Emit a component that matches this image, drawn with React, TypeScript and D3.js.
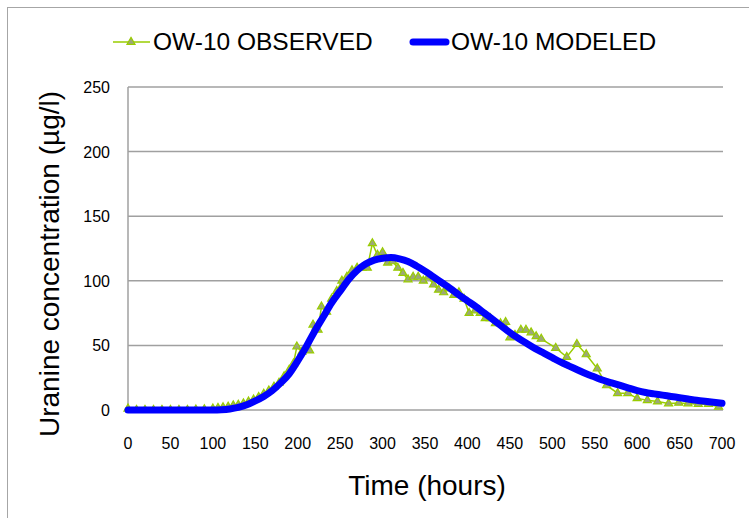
import React from 'react'
import * as d3 from 'd3'

// observed concentration, [hours, ug/l]
const observedHours = [0, 10, 20, 30, 40, 50, 60, 70, 80, 90, 100, 106, 112, 118, 124, 130, 136, 142, 148, 154, 160, 166, 172, 178, 184, 190, 195, 199, 205, 210, 214, 218, 224, 228, 234, 240, 246, 252, 258, 264, 270, 276, 282, 288, 294, 300, 306, 312, 318, 324, 330, 336, 342, 348, 354, 360, 366, 372, 378, 384, 390, 396, 402, 409, 415, 421, 427, 433, 439, 445, 450, 456, 463, 469, 475, 481, 487, 504, 517, 529, 540, 553, 564, 577, 589, 600, 612, 624, 637, 649, 660, 672, 684, 696]
const observedValues = [1, 0, 0, 0, 0, 0, 0, 0, 0.3, 0.5, 1, 1.5, 2, 2.5, 3.5, 4, 5, 6.5, 8, 10, 12.5, 15, 18, 21, 26, 31, 36, 49, 45, 47, 46, 66, 62, 80, 76, 86, 92, 100, 103, 108, 110, 110, 110, 129, 120, 122, 114, 115, 110, 106, 101, 103, 103, 100, 103, 97, 93, 91, 94, 89, 91, 86, 75, 77, 75, 71, 71, 67, 67, 68, 56, 58, 62, 62, 60, 57, 55, 48, 41, 51, 43, 32, 19, 13, 13, 9, 7.5, 6.5, 5, 5.5, 5, 4.5, 4.5, 2.5]

// modeled curve, every 10 hours
const modeledHours = d3.range(0, 701, 10)
const modeledValues = [0, 0, 0, 0, 0, 0, 0, 0, 0, 0, 0, 0.2, 0.8, 2, 4, 7, 10.5, 15, 21, 28, 38, 49, 61, 72, 83, 92, 101, 108, 113, 116, 117.5, 118, 117, 115, 111.5, 107.5, 103, 98.5, 94, 89, 84.5, 80, 75, 70, 65, 60, 55.5, 51.5, 47.5, 44, 40.5, 37, 34, 31, 28, 25.5, 23, 21, 19, 17, 15, 13.5, 12.5, 11.5, 10.5, 9.5, 8.5, 7.5, 6.7, 6, 5.2]

const xTicks = d3.range(0, 701, 50)
const yTicks = [0, 50, 100, 150, 200, 250]

const W = 749
const H = 518
const font = '"Liberation Sans", Arial, sans-serif'
const green = '#99CC00'
const markerFill = '#9CA878'

export default function App() {
  const x = d3.scaleLinear().domain([0, 700]).range([128, 722])
  const y = d3.scaleLinear().domain([0, 250]).range([410, 87])

  const observed = observedHours.map((h, i) => [h, observedValues[i]] as [number, number])
  const modeled = modeledHours.map((h, i) => [h, modeledValues[i]] as [number, number])

  const obsLine = d3.line<[number, number]>().x(d => x(d[0])).y(d => y(d[1]))
  const modLine = d3.line<[number, number]>().x(d => x(d[0])).y(d => y(d[1])).curve(d3.curveMonotoneX)
  const tri = d3.symbol(d3.symbolTriangle, 28)()

  return (
    <svg width={W} height={H} style={{ position: 'absolute', left: 0, top: 0, background: '#fff' }}>
      <rect x={7.5} y={7.5} width={W + 20} height={H + 20} fill="#fff" stroke="#a6a6a6" strokeWidth={1} />

      {/* legend */}
      <g>
        <line x1={113} x2={150} y1={42} y2={42} stroke={green} strokeWidth={1.5} />
        <path d={tri!} transform="translate(131,42)" fill={markerFill} stroke={green} strokeWidth={1.2} />
        <text x={153} y={50} fontFamily={font} fontSize={24.5} fill="#000">OW-10 OBSERVED</text>
        <line x1={413} x2={446} y1={42} y2={42} stroke="#0000FF" strokeWidth={7} strokeLinecap="round" />
        <text x={451} y={50} fontFamily={font} fontSize={24.5} fill="#000">OW-10 MODELED</text>
      </g>

      {/* grid */}
      {yTicks.map(t => (
        <line key={t} x1={128} x2={723} y1={y(t)} y2={y(t)} stroke="#a0a0a0" strokeWidth={1.5} />
      ))}
      <line x1={128} x2={128} y1={y(250)} y2={y(0)} stroke="#a0a0a0" strokeWidth={1.5} />

      {yTicks.map(t => (
        <text key={t} x={110} y={y(t) + 6} textAnchor="end" fontFamily={font} fontSize={16} fill="#000">{t}</text>
      ))}
      {xTicks.map(t => (
        <text key={t} x={x(t)} y={449} textAnchor="middle" fontFamily={font} fontSize={16} fill="#000">{t}</text>
      ))}

      <text x={427} y={495} textAnchor="middle" fontFamily={font} fontSize={28} fill="#000">Time (hours)</text>
      <text transform="translate(59,264) rotate(-90)" textAnchor="middle" fontFamily={font} fontSize={28} fill="#000">Uranine concentration (µg/l)</text>

      {/* observed */}
      <path d={obsLine(observed)!} fill="none" stroke={green} strokeWidth={1.5} />
      {observed.map((d, i) => (
        <path key={i} d={tri!} transform={`translate(${x(d[0])},${y(d[1])})`} fill={markerFill} stroke={green} strokeWidth={1.2} />
      ))}

      {/* modeled */}
      <path d={modLine(modeled)!} fill="none" stroke="#0000FF" strokeWidth={7} strokeLinecap="round" />
    </svg>
  )
}
